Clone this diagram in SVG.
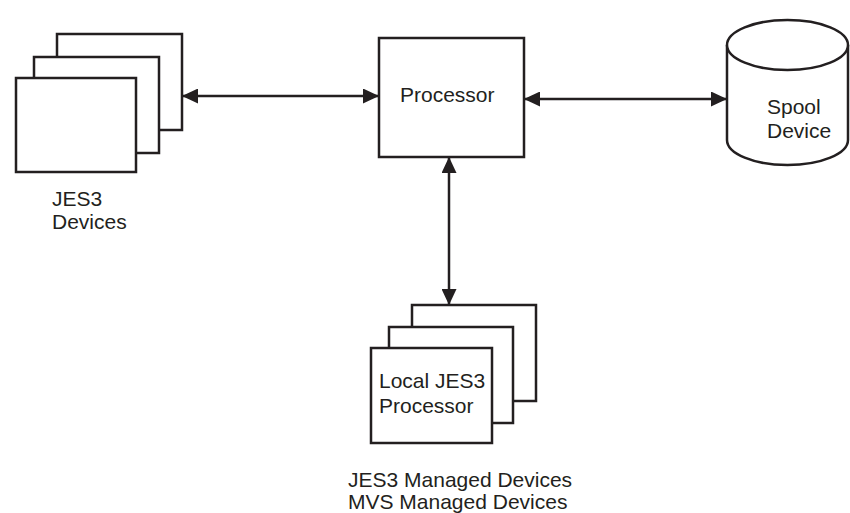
<svg xmlns="http://www.w3.org/2000/svg" width="850" height="513" viewBox="0 0 850 513">
<defs>
<style>
.box{fill:#fff;stroke:#231f20;stroke-width:2.5}
.lbl{font-family:"Liberation Sans",Arial,sans-serif;font-size:21px;fill:#231f20}
.conn{stroke:#231f20;stroke-width:2.5;fill:none;marker-start:url(#ah);marker-end:url(#ah)}
</style>
<marker id="ah" markerUnits="userSpaceOnUse" markerWidth="16" markerHeight="15" viewBox="0 0 16 15" refX="15" refY="7.5" orient="auto-start-reverse">
<path d="M0,0 L16,7.5 L0,15 Z" fill="#231f20"/>
</marker>
</defs>
<rect width="850" height="513" fill="#fff"/>
<g id="jes3-devices">
<rect class="box" x="57" y="34" width="125" height="96"/>
<rect class="box" x="34" y="57" width="125" height="96"/>
<rect class="box" x="16" y="78" width="120" height="94"/>
<text class="lbl" x="52" y="206">JES3</text>
<text class="lbl" x="52" y="229">Devices</text>
</g>
<g id="processor">
<rect class="box" x="379" y="38" width="145" height="119"/>
<text class="lbl" x="400" y="102">Processor</text>
</g>
<g id="spool-device">
<path class="box" d="M727,45 L727,140 A60.5,25 0 0 0 848,140 L848,45"/>
<ellipse class="box" cx="787.5" cy="45" rx="60.5" ry="25"/>
<text class="lbl" x="767" y="114">Spool</text>
<text class="lbl" x="767" y="138">Device</text>
</g>
<g id="local-jes3">
<rect class="box" x="412" y="305" width="124" height="96"/>
<rect class="box" x="389" y="327" width="124" height="96"/>
<rect class="box" x="371" y="348" width="121" height="95"/>
<text class="lbl" x="379" y="388">Local JES3</text>
<text class="lbl" x="379" y="413">Processor</text>
<text class="lbl" x="348" y="487">JES3 Managed Devices</text>
<text class="lbl" x="348" y="509">MVS Managed Devices</text>
</g>
<g id="connectors">
<path class="conn" d="M183,96 L378,96"/>
<path class="conn" d="M525,99 L726,99"/>
<path class="conn" d="M449,158 L449,304"/>
</g>
</svg>
